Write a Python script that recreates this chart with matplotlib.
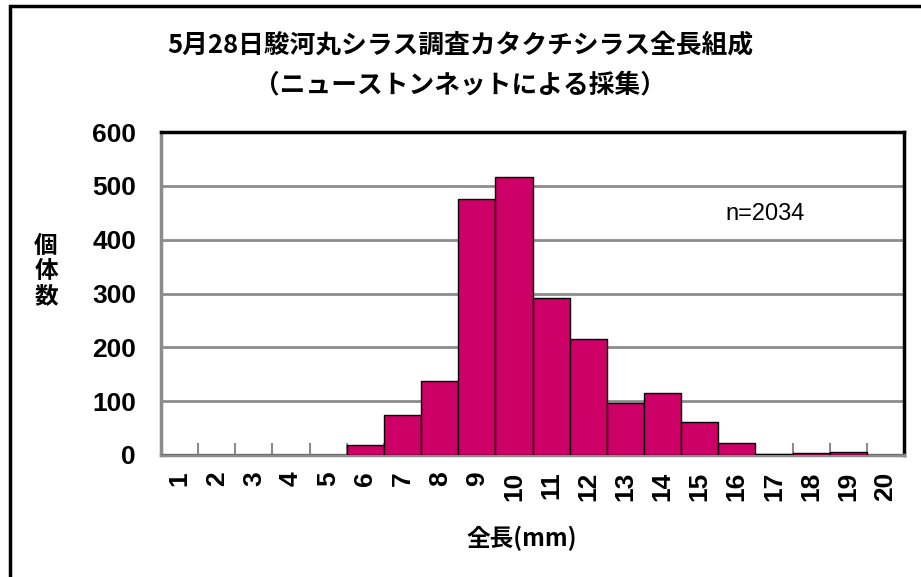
import numpy as np
import matplotlib.pyplot as plt
from matplotlib.patches import Rectangle

plt.rcParams['font.family'] = ['Liberation Sans', 'Noto Sans CJK JP', 'DejaVu Sans']

# 全長階級 (mm) と個体数
lengths = list(range(1, 21))
counts = [0, 0, 0, 0, 0, 18, 75, 137, 476, 516, 291, 216, 97, 115, 61, 22, 1, 4, 5, 0]
tick_labels = [str(v) for v in lengths]

title = '5月28日駿河丸シラス調査カタクチシラス全長組成\n（ニューストンネットによる採集）'
n_text = 'n=2034'

fig = plt.figure(figsize=(9.21, 5.77), dpi=100)
ax = fig.add_axes([161 / 921, 1 - 455 / 577, (904 - 161) / 921, (455 - 132) / 577])

ax.bar(lengths, counts, width=1.0, color='#CC0066', edgecolor='black', linewidth=1.0, zorder=3)

ax.set_xlim(0.5, 20.5)
ax.set_ylim(0, 600)
ax.set_yticks(np.arange(0, 601, 100))
ax.yaxis.grid(True, color='#8c8c8c', linewidth=2.0, zorder=0)
ax.tick_params(axis='y', length=0, labelsize=19, pad=18)
for lab in ax.get_yticklabels():
    lab.set_fontweight('bold')

ax.set_xticks(lengths)
ax.set_xticklabels(tick_labels, rotation=90, fontsize=19, fontweight='bold')
ax.set_xticks(np.arange(1.5, 20, 1.0), minor=True)
ax.tick_params(axis='x', which='major', length=0, pad=12)
ax.tick_params(axis='x', which='minor', direction='in', length=9, width=1.5, color='#8c8c8c')

for side in ['left', 'bottom']:
    ax.spines[side].set_color('#8c8c8c')
    ax.spines[side].set_linewidth(2.5)
for side in ['top', 'right']:
    ax.spines[side].set_color('black')
    ax.spines[side].set_linewidth(2.5)

ax.text(0.76, 0.745, n_text, transform=ax.transAxes, fontsize=17, ha='left', va='center')

fig.text(460 / 921, 1 - 65 / 577, title, ha='center', va='center', fontsize=18.5,
         fontweight='bold', family=['Noto Sans CJK JP'], linespacing=1.6)
fig.text(46 / 921, 1 - 271 / 577, '個\n体\n数', ha='center', va='center', fontsize=17,
         fontweight='bold', family=['Noto Sans CJK JP'], linespacing=1.05)
fig.text(522 / 921, 1 - 538 / 577, '全長(mm)', ha='center', va='center', fontsize=17,
         fontweight='bold', family=['Noto Sans CJK JP'])

# 外枠
fig.patches.append(Rectangle((10 / 921, -0.1), 1.2, 1.1 - 6 / 577, transform=fig.transFigure,
                             fill=False, edgecolor='black', linewidth=2.5))

fig.savefig('out.png', dpi=100)
